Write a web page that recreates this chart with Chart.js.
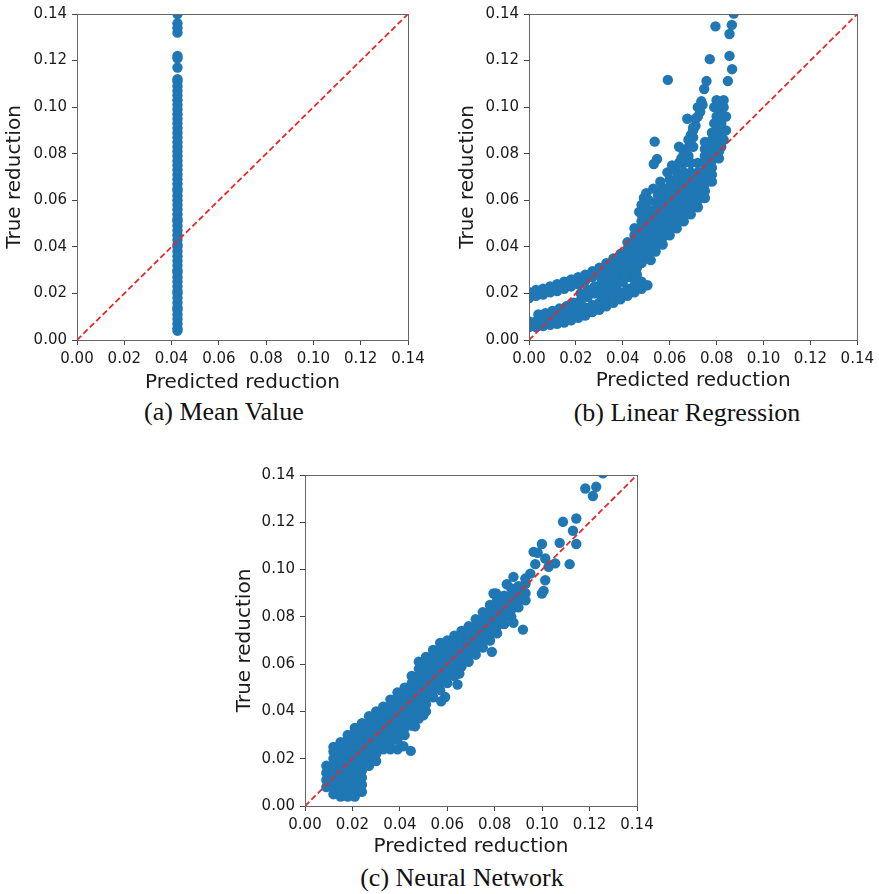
<!DOCTYPE html>
<html>
<head>
<meta charset="utf-8">
<script src="https://cdn.jsdelivr.net/npm/chart.js@4.4.1/dist/chart.umd.min.js"></script>
<style>
  body { margin: 0; background: #fff; }
  #page { position: relative; width: 879px; height: 894px; overflow: hidden; }
  canvas { position: absolute; }
  .caption {
    position: absolute; font-family: 'Liberation Serif', serif; font-size: 26px;
    line-height: 30px; color: #111; white-space: nowrap; transform: translateX(-50%);
  }
</style>
</head>
<body>
<div id="page">
  <canvas id="mean" width="440" height="395" style="left:0;top:0"></canvas>
  <canvas id="linear" width="439" height="395" style="left:440px;top:0"></canvas>
  <canvas id="neural" width="440" height="420" style="left:220px;top:440px"></canvas>
  <div class="caption" style="left:224px;top:397px">(a) Mean Value</div>
  <div class="caption" style="left:687px;top:398px">(b) Linear Regression</div>
  <div class="caption" style="left:462px;top:863px">(c) Neural Network</div>
</div>
<script>
const tickValues = [0, 0.02, 0.04, 0.06, 0.08, 0.10, 0.12, 0.14];
const diagonal = [[0, 0], [0.14, 0.14]];

// (a) every prediction is the same mean value
const meanPred = 0.0425;
const meanTrue = [0.004, 0.005, 0.007, 0.009, 0.011, 0.013, 0.014, 0.016, 0.018, 0.020,
  0.021, 0.023, 0.025, 0.027, 0.029, 0.030, 0.032, 0.034, 0.036, 0.038, 0.040, 0.041,
  0.043, 0.045, 0.047, 0.049, 0.051, 0.052, 0.054, 0.056, 0.058, 0.060, 0.062, 0.064,
  0.065, 0.067, 0.069, 0.071, 0.073, 0.075, 0.077, 0.079, 0.081, 0.083, 0.085, 0.087,
  0.089, 0.091, 0.093, 0.095, 0.097, 0.099, 0.101, 0.103, 0.105, 0.107, 0.109, 0.111,
  0.112, 0.117, 0.121, 0.122, 0.132, 0.134, 0.136, 0.140];

// (b) linear regression: [predicted, true]
const linearBands = [
  [0, .018], [0, .0205], [.003, .019], [.003, .0215], [.006, .0195], [.006, .022], [.009, .0205], [.009, .023],
  [.012, .021], [.012, .024], [.015, .022], [.015, .025], [.018, .023], [.018, .026], [.021, .024], [.021, .027],
  [.024, .0255], [.024, .028], [.027, .027], [.027, .0295], [.030, .028], [.030, .031], [.033, .030], [.033, .033],
  [.036, .032], [.036, .035], [.039, .034], [.039, .037],
  [0, .0055], [0, .008], [.003, .0055], [.003, .008], [.006, .006], [.006, .0085], [.009, .0065], [.009, .009],
  [.012, .007], [.012, .010], [.015, .0075], [.015, .011], [.018, .0085], [.018, .012], [.021, .0095], [.021, .013],
  [.024, .0105], [.024, .014], [.027, .012], [.027, .015], [.030, .013], [.030, .016], [.033, .0145], [.033, .0175],
  [.036, .016], [.036, .019], [.039, .0175], [.039, .0205], [.042, .019], [.042, .022], [.045, .0205], [.045, .0235],
  [.048, .022], [.048, .025], [.0505, .0235],
  [.004, .011], [.007, .0115], [.010, .0125], [.013, .0135], [.016, .0145], [.019, .016], [.022, .017], [.025, .0185],
  [.028, .020], [.031, .022], [.034, .024], [.037, .026], [.040, .028], [.043, .030], [.046, .031], [.022, .020],
  [.025, .0215], [.028, .023], [.031, .025], [.034, .027], [.037, .029], [.031, .019], [.034, .021], [.037, .023],
  [.040, .025], [.043, .027], [.040, .031], [.043, .033], [.046, .034], [.046, .028]
];
const linearCloud = [
  [.042, .033], [.042, .036], [.042, .039], [.042, .042],
  [.045, .036], [.045, .039], [.045, .042], [.045, .045], [.045, .048],
  [.048, .033], [.048, .036], [.048, .039], [.048, .042], [.048, .045], [.048, .048], [.048, .051], [.048, .054],
  [.051, .035], [.051, .038], [.051, .041], [.051, .044], [.051, .047], [.051, .050], [.051, .053], [.051, .056],
  [.054, .038], [.054, .041], [.054, .044], [.054, .047], [.054, .050], [.054, .053], [.054, .056], [.054, .059],
  [.057, .041], [.057, .044], [.057, .047], [.057, .050], [.057, .053], [.057, .056], [.057, .059], [.057, .062], [.057, .065],
  [.060, .045], [.060, .048], [.060, .051], [.060, .054], [.060, .057], [.060, .060], [.060, .063], [.060, .066], [.060, .069],
  [.063, .048], [.063, .051], [.063, .054], [.063, .057], [.063, .060], [.063, .063], [.063, .066], [.063, .069], [.063, .072],
  [.066, .051], [.066, .054], [.066, .057], [.066, .060], [.066, .063], [.066, .066], [.066, .069], [.066, .072], [.066, .076], [.066, .080],
  [.069, .054], [.069, .057], [.069, .060], [.069, .063], [.069, .066], [.069, .069], [.069, .072], [.069, .076], [.069, .084], [.069, .088],
  [.072, .057], [.072, .060], [.072, .063], [.072, .066], [.072, .069], [.072, .072], [.072, .076], [.071, .092], [.072, .096], [.072, .100],
  [.075, .061], [.075, .064], [.075, .067], [.075, .070], [.075, .073], [.075, .076], [.075, .079], [.075, .082], [.075, .085],
  [.078, .068], [.078, .071], [.078, .074], [.078, .077], [.078, .080], [.078, .083], [.078, .086], [.078, .089],
  [.081, .078], [.081, .081], [.081, .084], [.081, .087], [.081, .090],
  [.080, .096], [.082, .099], [.080, .103], [.083, .103], [.084, .096], [.084, .090], [.082, .093],
  [.049, .061], [.050, .063], [.053, .065], [.048, .058], [.047, .055], [.062, .074], [.064, .076],
  [.063, .075], [.065, .078], [.067, .082], [.068, .086], [.070, .090], [.071, .095], [.073, .098], [.074, .101],
  [.068, .079], [.070, .083], [.070, .087], [.079, .100], [.081, .102], [.083, .100], [.079, .093], [.083, .086],
  [.082, .083], [.051, .060], [.055, .062], [.056, .068], [.059, .072], [.061, .075]
];
const linearOutliers = [
  [.0592, .1117], [.0795, .1347], [.0865, .1353], [.0855, .1314], [.0771, .1206], [.0855, .122], [.0866, .1163],
  [.0757, .1112], [.0848, .1112], [.0747, .1078], [.0536, .0852], [.0546, .0777], [.0532, .0756], [.064, .083],
  [.0675, .095], [.0873, .1402], [.0519, .0343], [.0455, .0267], [.0413, .0276], [.0735, .1025], [.0700, .0912],
  [.0687, .0855], [.0666, .0798]
];

// (c) neural network: [predicted, true]
const neuralCloud = [
  [.009, .008], [.009, .011], [.009, .014], [.009, .017],
  [.012, .005], [.012, .008], [.012, .011], [.012, .014], [.012, .017], [.012, .020], [.012, .023], [.012, .025],
  [.015, .004], [.015, .007], [.015, .010], [.015, .013], [.015, .016], [.015, .019], [.015, .022], [.015, .025], [.015, .027],
  [.018, .004], [.018, .007], [.018, .010], [.018, .013], [.018, .016], [.018, .019], [.018, .022], [.018, .025], [.018, .028], [.018, .030],
  [.021, .004], [.021, .007], [.021, .010], [.021, .013], [.021, .016], [.021, .019], [.021, .022], [.021, .025], [.021, .028], [.021, .031], [.021, .033],
  [.024, .006], [.024, .009], [.024, .012], [.024, .015], [.024, .018], [.024, .021], [.024, .024], [.024, .027], [.024, .030], [.024, .033], [.024, .035],
  [.027, .017], [.027, .020], [.027, .023], [.027, .026], [.027, .029], [.027, .032], [.027, .035], [.027, .038],
  [.030, .019], [.030, .022], [.030, .025], [.030, .028], [.030, .031], [.030, .034], [.030, .037], [.030, .040],
  [.033, .024], [.033, .027], [.033, .030], [.033, .033], [.033, .036], [.033, .039], [.033, .042],
  [.036, .024], [.036, .027], [.036, .030], [.036, .033], [.036, .036], [.036, .039], [.036, .042], [.036, .045],
  [.039, .024], [.039, .028], [.039, .031], [.039, .034], [.039, .037], [.039, .040], [.039, .043], [.039, .046], [.039, .048],
  [.042, .030], [.042, .033], [.042, .036], [.042, .039], [.042, .042], [.042, .045], [.042, .048], [.042, .050],
  [.045, .034], [.045, .037], [.045, .040], [.045, .043], [.045, .046], [.045, .049], [.045, .052], [.045, .055],
  [.048, .037], [.048, .040], [.048, .043], [.048, .046], [.048, .049], [.048, .052], [.048, .055], [.048, .058], [.048, .061],
  [.051, .040], [.051, .043], [.051, .046], [.051, .049], [.051, .052], [.051, .055], [.051, .058], [.051, .061], [.051, .063],
  [.054, .046], [.054, .049], [.054, .052], [.054, .055], [.054, .058], [.054, .061], [.054, .064], [.054, .066],
  [.057, .049], [.057, .052], [.057, .055], [.057, .058], [.057, .061], [.057, .064], [.057, .067], [.057, .069],
  [.060, .052], [.060, .055], [.060, .058], [.060, .061], [.060, .064], [.060, .067], [.060, .070],
  [.063, .055], [.063, .058], [.063, .061], [.063, .064], [.063, .067], [.063, .070], [.063, .072],
  [.066, .059], [.066, .062], [.066, .065], [.066, .068], [.066, .071], [.066, .074],
  [.069, .061], [.069, .064], [.069, .067], [.069, .070], [.069, .073], [.069, .076],
  [.072, .064], [.072, .067], [.072, .070], [.072, .073], [.072, .076], [.072, .079],
  [.075, .067], [.075, .070], [.075, .073], [.075, .076], [.075, .079], [.075, .082],
  [.078, .070], [.078, .073], [.078, .076], [.078, .079], [.078, .082], [.078, .085],
  [.081, .073], [.081, .076], [.081, .079], [.081, .082], [.081, .085], [.081, .087],
  [.084, .077], [.084, .080], [.084, .083], [.084, .086], [.084, .089],
  [.087, .080], [.087, .083], [.087, .086], [.087, .089], [.087, .092],
  [.090, .084], [.090, .087], [.090, .090], [.090, .093],
  [.093, .087], [.093, .090], [.093, .094]
];
const neuralOutliers = [
  [.1256, .1407], [.1182, .1343], [.1228, .1350], [.1214, .1311], [.1088, .1202], [.1144, .1216], [.1130, .1164],
  [.1144, .1108], [.1074, .1113], [.1116, .1023], [.0999, .1108], [.0964, .1075], [.0981, .1071], [.1013, .1047],
  [.0971, .1023], [.1055, .1026], [.1027, .1012], [.1013, .0955], [.0999, .0899], [.1006, .0910], [.0879, .0969],
  [.0851, .0938], [.0929, .0962], [.0950, .0983], [.0795, .0899], [.0806, .0899], [.0919, .0746], [.0879, .0775],
  [.0788, .0652], [.0651, .0560], [.0643, .0514], [.0591, .0461], [.0574, .0443], [.0499, .0384], [.0464, .0337],
  [.0415, .0253], [.0446, .0233]
];

const BLUE = '#1f77b4';
const RED = 'rgb(232, 40, 40)';
const TEXT = '#1a1a1a';
const FONT = 'DejaVu Sans';

const toXY = pairs => pairs.map(p => ({ x: p[0], y: p[1] }));

// matplotlib style box round the plot area
const frame = {
    id: 'frame',
    afterDatasetsDraw(chart) {
        const { ctx, chartArea: a } = chart;
        ctx.save();
        ctx.strokeStyle = '#666';
        ctx.lineWidth = 1;
        ctx.strokeRect(Math.round(a.left) + 0.5, Math.round(a.top) + 0.5,
            Math.round(a.right - a.left), Math.round(a.bottom - a.top));
        ctx.restore();
    }
};

const axis = (title, titlePad, size) => ({
    type: 'linear',
    min: 0,
    max: 0.14,
    afterBuildTicks: s => { s.ticks = tickValues.map(v => ({ value: v })); },
    afterFit: s => { if (s.isHorizontal()) s.height = size; else s.width = size; },
    ticks: {
        font: { family: FONT, size: 15 },
        color: TEXT,
        padding: 5,
        autoSkip: false,
        maxRotation: 0,
        callback: v => v.toFixed(2)
    },
    grid: { drawOnChartArea: false, drawTicks: true, tickLength: 5, color: '#444' },
    border: { display: false },
    title: {
        display: true,
        text: title,
        color: TEXT,
        font: { family: FONT, size: 20 },
        padding: titlePad
    }
});

const makePanel = (id, points, layout) => {
    new Chart(document.getElementById(id), {
        type: 'scatter',
        data: {
            datasets: [
                {
                    data: toXY(diagonal),
                    showLine: true,
                    borderColor: RED,
                    borderWidth: 1.8,
                    borderDash: [6, 3],
                    pointRadius: 0,
                    clip: 0
                },
                {
                    data: toXY(points),
                    pointRadius: 5.2,
                    pointBackgroundColor: BLUE,
                    pointBorderWidth: 0,
                    clip: 0
                }
            ]
        },
        options: {
            responsive: false,
            animation: false,
            events: [],
            layout: { padding: layout.padding },
            plugins: { legend: { display: false }, tooltip: { enabled: false } },
            scales: {
                x: axis('Predicted reduction', { top: 0, bottom: layout.xTitle }, layout.xHeight),
                y: axis('True reduction', { top: layout.yTitle, bottom: 0 }, layout.yWidth)
            }
        },
        plugins: [frame]
    });
};

makePanel('mean', meanTrue.map(v => [meanPred, v]), {
    padding: { left: 0, top: 9, right: 32, bottom: 0 }, yWidth: 77, xHeight: 55, xTitle: 0, yTitle: 3
});
makePanel('linear', [...linearBands, ...linearCloud, ...linearOutliers], {
    padding: { left: 0, top: 10, right: 18, bottom: 0 }, yWidth: 89, xHeight: 55, xTitle: 2.5, yTitle: 15.5
});
makePanel('neural', [...neuralCloud, ...neuralOutliers], {
    padding: { left: 0, top: 35, right: 23, bottom: 0 }, yWidth: 85, xHeight: 54, xTitle: 1, yTitle: 13
});
</script>
</body>
</html>
